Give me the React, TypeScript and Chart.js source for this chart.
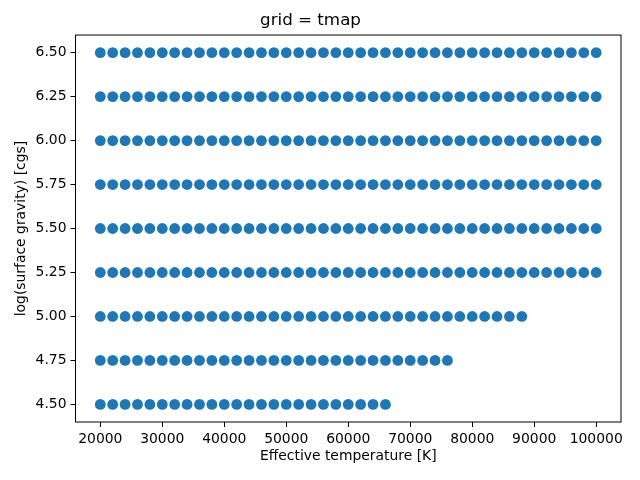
import React, { useEffect, useRef } from "react";
import { Chart, registerables, ChartConfiguration, Plugin } from "chart.js";

Chart.register(...registerables);

// effective temperature grid (K)
const temperatures = [
  20000, 22000, 24000, 26000, 28000, 30000, 32000, 34000, 36000, 38000,
  40000, 42000, 44000, 46000, 48000, 50000, 52000, 54000, 56000, 58000,
  60000, 62000, 64000, 66000, 68000, 70000, 72000, 74000, 76000, 78000,
  80000, 82000, 84000, 86000, 88000, 90000, 92000, 94000, 96000, 98000,
  100000,
];
// log g values and the hottest model available for each
const loggValues = [4.5, 4.75, 5.0, 5.25, 5.5, 5.75, 6.0, 6.25, 6.5];
const maxTeff = [66000, 76000, 88000, 100000, 100000, 100000, 100000, 100000, 100000];

const xTicks = [20000, 30000, 40000, 50000, 60000, 70000, 80000, 90000, 100000];
const yTicks = [4.5, 4.75, 5.0, 5.25, 5.5, 5.75, 6.0, 6.25, 6.5];

const points: { x: number; y: number }[] = [];
loggValues.forEach((g, i) => {
  temperatures.forEach((t) => {
    if (t <= maxTeff[i]) points.push({ x: t, y: g });
  });
});

const FONT = "'DejaVu Sans', sans-serif";

// full box around the axes, like matplotlib spines
const frame: Plugin<"scatter"> = {
  id: "frame",
  afterDraw(chart) {
    const { ctx, chartArea: a } = chart;
    ctx.save();
    ctx.strokeStyle = "#000";
    ctx.lineWidth = 1;
    ctx.strokeRect(a.left, a.top, a.right - a.left, a.bottom - a.top);
    ctx.restore();
  },
};

const App = () => {
  const canvasRef = useRef<HTMLCanvasElement | null>(null);
  const chartRef = useRef<Chart<"scatter"> | null>(null);

  useEffect(() => {
    document.body.style.margin = "0";
    const ctx = canvasRef.current?.getContext("2d");
    if (chartRef.current) chartRef.current.destroy();
    if (!ctx) return;

    const config: ChartConfiguration<"scatter"> = {
      type: "scatter",
      data: {
        datasets: [
          {
            data: points,
            backgroundColor: "#1f77b4",
            borderColor: "#1f77b4",
            borderWidth: 0,
            pointRadius: 5.4,
          },
        ],
      },
      options: {
        animation: false,
        responsive: true,
        maintainAspectRatio: false,
        layout: { padding: { left: 0, right: 19, top: 0, bottom: 0 } },
        plugins: {
          legend: { display: false },
          tooltip: { enabled: false },
          title: {
            display: true,
            text: "grid = tmap",
            color: "#000",
            font: { family: FONT, size: 16.7, weight: "normal" },
            padding: { top: 11, bottom: 4 },
          },
        },
        scales: {
          x: {
            type: "linear",
            min: 16000,
            max: 104000,
            afterBuildTicks: (s) => {
              s.ticks = xTicks.map((v) => ({ value: v }));
            },
            afterFit: (s) => {
              s.height = 58;
            },
            grid: {
              drawOnChartArea: false,
              drawTicks: true,
              tickLength: 5,
              tickColor: "#000",
            },
            border: { display: false },
            ticks: {
              color: "#000",
              font: { family: FONT, size: 13.9 },
              padding: 4,
              maxRotation: 0,
              callback: (v) => String(v),
            },
            title: {
              display: true,
              text: "Effective temperature [K]",
              color: "#000",
              font: { family: FONT, size: 13.9 },
              padding: { top: 0, bottom: 15 },
            },
          },
          y: {
            type: "linear",
            min: 4.4,
            max: 6.6,
            afterBuildTicks: (s) => {
              s.ticks = yTicks.map((v) => ({ value: v }));
            },
            afterFit: (s) => {
              s.width = 75.5;
            },
            grid: {
              drawOnChartArea: false,
              drawTicks: true,
              tickLength: 5,
              tickColor: "#000",
            },
            border: { display: false },
            ticks: {
              color: "#000",
              font: { family: FONT, size: 13.9 },
              padding: 4,
              callback: (v) => Number(v).toFixed(2),
            },
            title: {
              display: true,
              text: "log(surface gravity) [cgs]",
              color: "#000",
              font: { family: FONT, size: 13.9 },
              padding: { top: 13, bottom: 0 },
            },
          },
        },
      },
      plugins: [frame],
    };

    chartRef.current = new Chart(ctx, config);
    return () => {
      chartRef.current?.destroy();
      chartRef.current = null;
    };
  }, []);

  return (
    <div style={{ width: 640, height: 480, position: "relative", background: "#fff" }}>
      <canvas ref={canvasRef} />
    </div>
  );
};

export default App;
